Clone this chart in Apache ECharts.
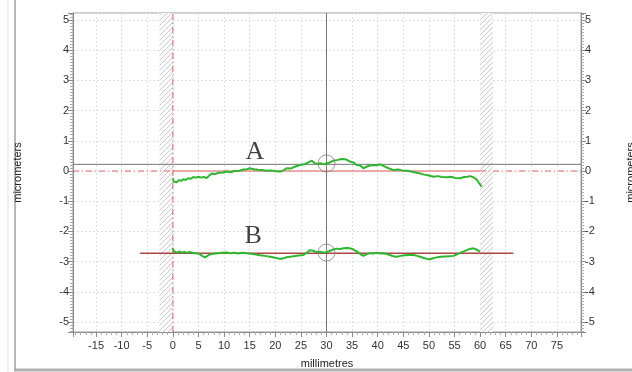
<!DOCTYPE html>
<html>
<head>
<meta charset="utf-8">
<script src="https://cdn.jsdelivr.net/npm/echarts@6/dist/echarts.min.js"></script>
<style>
  html, body { margin: 0; padding: 0; background: #fff; }
  #chart { width: 632px; height: 372px; }
</style>
</head>
<body>
<div id="chart"></div>
<script>
// profile A (upper trace), millimetres / micrometers
const xA = [0, 0.2, 0.5, 0.8, 1.2, 1.6, 2, 2.5, 3, 3.5, 4, 4.5, 5, 5.5, 6, 6.6, 7.1, 7.6, 8.2, 9, 9.8, 10.5, 11.3, 12, 13, 13.8, 14.5, 15, 15.8, 16.6, 17.4, 18.3, 19.2, 20, 21, 21.6, 22.2, 23, 23.8, 24.8, 25.6, 26.4, 27.1, 27.6, 28.1, 28.8, 29.4, 30, 30.6, 31.3, 32, 32.7, 33.3, 34, 34.6, 35.3, 35.9, 36.6, 37.2, 37.8, 38.5, 39.2, 39.8, 40.5, 41.2, 42, 43.1, 44, 44.8, 45.7, 46.5, 47.4, 48.3, 49.1, 50, 50.9, 51.7, 52.6, 53.5, 54.3, 55.2, 56.1, 56.9, 57.5, 58, 58.6, 59, 59.4, 59.8, 60.3];
const yA = [-0.25, -0.36, -0.3, -0.37, -0.3, -0.33, -0.27, -0.3, -0.24, -0.26, -0.2, -0.22, -0.19, -0.22, -0.2, -0.23, -0.15, -0.08, -0.1, -0.06, -0.05, -0.02, -0.04, 0.0, 0.01, 0.05, 0.06, 0.09, 0.06, 0.04, 0.03, 0.01, 0.02, -0.01, -0.02, 0.02, 0.09, 0.08, 0.14, 0.2, 0.22, 0.28, 0.34, 0.27, 0.23, 0.26, 0.22, 0.25, 0.28, 0.34, 0.36, 0.39, 0.4, 0.37, 0.31, 0.28, 0.2, 0.18, 0.09, 0.14, 0.18, 0.2, 0.19, 0.22, 0.16, 0.1, 0.03, 0.05, 0.02, 0.01, -0.02, -0.05, -0.08, -0.12, -0.15, -0.19, -0.17, -0.2, -0.21, -0.19, -0.23, -0.24, -0.2, -0.19, -0.17, -0.2, -0.24, -0.3, -0.4, -0.52];

// profile B (lower trace)
const xB = [0, 0.2, 0.4, 0.8, 1.3, 1.8, 2.3, 2.7, 3.3, 4, 4.7, 5.3, 5.8, 6.3, 6.8, 7.3, 8, 8.8, 9.6, 10.5, 11.3, 12, 12.8, 13.6, 14.4, 15.2, 16, 17, 18, 19, 20, 20.9, 21.6, 22.3, 22.9, 23.6, 24.5, 25.5, 26.2, 26.8, 27.4, 28, 28.7, 29.3, 30, 30.6, 31.3, 32, 32.7, 33.3, 34, 34.6, 35.3, 35.9, 36.6, 37.2, 37.8, 38.5, 39.1, 39.8, 40.5, 41.1, 41.8, 42.5, 43.1, 43.7, 44.5, 45.3, 46.1, 47, 47.7, 48.3, 49, 49.6, 50.2, 50.8, 51.5, 52.2, 53, 53.9, 54.8, 55.5, 56.1, 56.7, 57.4, 58, 58.7, 59.3, 60];
const yB = [-2.56, -2.66, -2.62, -2.7, -2.66, -2.7, -2.68, -2.71, -2.68, -2.72, -2.72, -2.76, -2.82, -2.86, -2.8, -2.76, -2.74, -2.72, -2.71, -2.7, -2.72, -2.71, -2.73, -2.71, -2.72, -2.74, -2.76, -2.79, -2.81, -2.84, -2.87, -2.91, -2.89, -2.85, -2.84, -2.82, -2.8, -2.78, -2.7, -2.62, -2.64, -2.68, -2.67, -2.7, -2.69, -2.65, -2.6, -2.57, -2.58, -2.56, -2.55, -2.56, -2.6, -2.66, -2.75, -2.81, -2.76, -2.72, -2.73, -2.71, -2.73, -2.72, -2.75, -2.79, -2.82, -2.84, -2.81, -2.79, -2.78, -2.78, -2.81, -2.84, -2.88, -2.91, -2.92, -2.89, -2.86, -2.84, -2.83, -2.82, -2.81, -2.76, -2.71, -2.67, -2.62, -2.58, -2.56, -2.6, -2.67];

// reference features
const cursorX = 30;
const cursorY = 0.22;
const circlesX = [30, 30];
const circlesY = [0.25, -2.7];
const labelNames = ['A', 'B'];
const labelX = [16, 15.7];
const labelY = [0.62, -2.15];
const bLineX = [-6.4, 66.5];
const bLineY = -2.72;
const measureRange = [0, 60];
const bands = [[-2.6, 0], [60, 62.5]];
const xRange = [-19.5, 79.7];
const yRange = [-5.33, 5.23];

const zip = (xs, ys) => xs.map((x, i) => [x, ys[i]]);

function hatch() {
  const c = document.createElement('canvas');
  c.width = 5; c.height = 5;
  const g = c.getContext('2d');
  g.fillStyle = '#fafafa';
  g.fillRect(0, 0, 5, 5);
  g.strokeStyle = '#cccccc';
  g.lineWidth = 1;
  g.beginPath();
  g.moveTo(0, 5); g.lineTo(5, 0);
  g.moveTo(-2.5, 2.5); g.lineTo(2.5, -2.5);
  g.moveTo(2.5, 7.5); g.lineTo(7.5, 2.5);
  g.stroke();
  return c;
}

const font = 'Liberation Sans, Arial, sans-serif';
const intLabel = v => (Math.abs(v - Math.round(v)) < 1e-6 ? String(Math.round(v)) : '');
const fiveLabel = v => (Math.abs(v / 5 - Math.round(v / 5)) < 1e-6 ? String(Math.round(v)) : '');
const dashDot = [6, 3, 1, 3];

function yAxisCfg(pos) {
  return {
    type: 'value',
    position: pos,
    min: yRange[0],
    max: yRange[1],
    minInterval: 1,
    maxInterval: 1,
    splitNumber: 10,
    name: 'micrometers',
    nameLocation: 'middle',
    nameGap: pos === 'left' ? 50 : 44,
    nameRotate: 90,
    nameTextStyle: { color: '#222', fontSize: 11, fontFamily: font },
    axisLine: { show: true, onZero: false, lineStyle: { color: '#8a8a8a' } },
    axisTick: { show: true, length: 5, lineStyle: { color: '#8a8a8a' } },
    minorTick: { show: true, splitNumber: 10, length: 3, lineStyle: { color: '#aaa' } },
    axisLabel: { color: '#333', fontSize: 11, fontFamily: font, margin: 4, formatter: intLabel },
    splitLine: { show: pos === 'left', lineStyle: { color: '#e0e0e0', type: [2, 2] } }
  };
}

// plain two-point guide line drawn as its own series
function guide(name, p1, p2, color, type, width) {
  return {
    name: name,
    type: 'line',
    data: [p1, p2],
    showSymbol: false,
    silent: true,
    z: 2,
    lineStyle: { color: color, type: type, width: width }
  };
}

const chart = echarts.init(document.getElementById('chart'));
chart.setOption({
  animation: false,
  backgroundColor: '#fff',
  grid: {
    left: 73, right: 51, top: 13, bottom: 40,
    outerBoundsMode: 'none',
    containLabel: false,
    show: true, borderColor: '#9a9a9a', borderWidth: 1, backgroundColor: 'transparent'
  },
  xAxis: {
    type: 'value',
    min: xRange[0],
    max: xRange[1],
    minInterval: 5,
    maxInterval: 5,
    splitNumber: 20,
    name: 'millimetres',
    nameLocation: 'middle',
    nameGap: 26,
    nameTextStyle: { color: '#222', fontSize: 11, fontFamily: font },
    axisLine: { show: true, onZero: false, lineStyle: { color: '#8a8a8a' } },
    axisTick: { show: true, length: 5, lineStyle: { color: '#8a8a8a' } },
    minorTick: { show: true, splitNumber: 5, length: 3, lineStyle: { color: '#aaa' } },
    axisLabel: { color: '#333', fontSize: 11, fontFamily: font, margin: 8, formatter: fiveLabel },
    splitLine: { show: true, lineStyle: { color: '#e0e0e0', type: [2, 2] } }
  },
  yAxis: [yAxisCfg('left'), yAxisCfg('right')],
  graphic: [
    { type: 'line', shape: { x1: 8, y1: 0, x2: 8, y2: 372 }, style: { stroke: '#e2e2e2', lineWidth: 1 } },
    { type: 'line', shape: { x1: 15, y1: 0, x2: 15, y2: 370 }, style: { stroke: '#b8b8b8', lineWidth: 2 } },
    { type: 'line', shape: { x1: 14, y1: 370, x2: 632, y2: 370 }, style: { stroke: '#b0b0b0', lineWidth: 3 } }
  ],
  series: [
    {
      name: 'bands',
      type: 'line',
      data: [],
      z: 1,
      markArea: {
        silent: true,
        itemStyle: { color: { image: hatch(), repeat: 'repeat' } },
        data: bands.map(b => [{ xAxis: b[0] }, { xAxis: b[1] }])
      }
    },
    guide('zeroV', [0, yRange[0]], [0, yRange[1]], '#e06666', dashDot, 1),
    guide('zeroL', [xRange[0], 0], [measureRange[0], 0], '#e06666', dashDot, 1),
    guide('zeroM', [measureRange[0], 0], [measureRange[1], 0], '#e45c5c', 'solid', 1.2),
    guide('zeroR', [measureRange[1], 0], [xRange[1], 0], '#e06666', dashDot, 1),
    guide('cursorV', [cursorX, yRange[0]], [cursorX, yRange[1]], '#777777', 'solid', 1),
    guide('cursorH', [xRange[0], cursorY], [xRange[1], cursorY], '#777777', 'solid', 1),
    guide('baseB', [bLineX[0], bLineY], [bLineX[1], bLineY], '#a84646', 'solid', 1.5),
    {
      name: 'A',
      type: 'line',
      data: zip(xA, yA),
      showSymbol: false,
      z: 3,
      lineStyle: { color: '#2fb52f', width: 2 }
    },
    {
      name: 'B',
      type: 'line',
      data: zip(xB, yB),
      showSymbol: false,
      z: 3,
      lineStyle: { color: '#2fb52f', width: 2 }
    },
    {
      name: 'cursor',
      type: 'scatter',
      data: zip(circlesX, circlesY),
      symbol: 'circle',
      symbolSize: 17,
      z: 4,
      itemStyle: { color: 'rgba(0,0,0,0)', borderColor: '#808080', borderWidth: 1 }
    },
    {
      name: 'labels',
      type: 'scatter',
      data: labelNames.map((n, i) => ({ name: n, value: [labelX[i], labelY[i]] })),
      symbolSize: 0,
      z: 5,
      label: {
        show: true,
        position: 'inside',
        formatter: p => p.name,
        color: '#111',
        fontSize: 26,
        fontFamily: 'Liberation Serif, Times New Roman, serif'
      }
    }
  ]
});
</script>
</body>
</html>
